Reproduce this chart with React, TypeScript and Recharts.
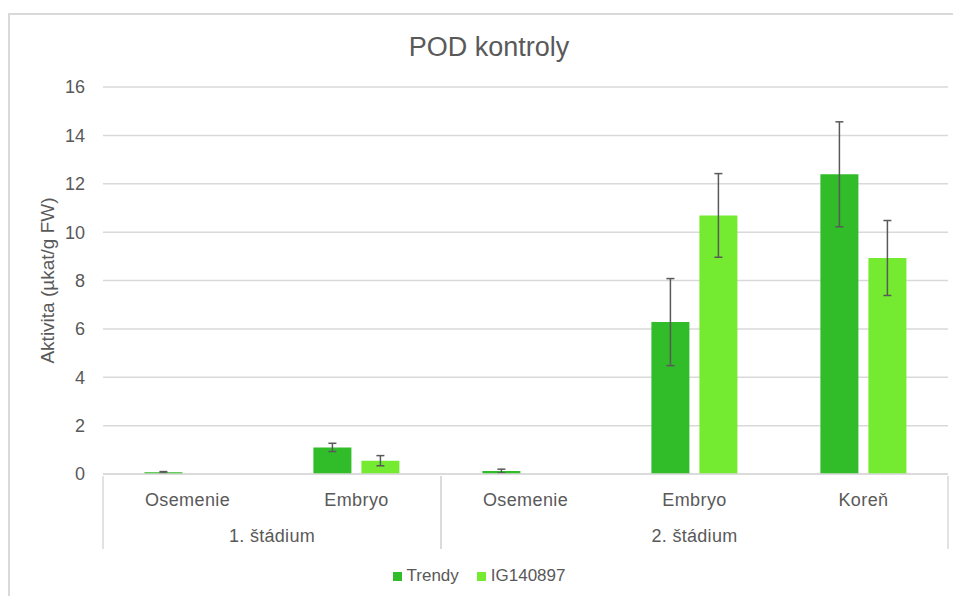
import React from 'react';
import { BarChart, Bar, XAxis, YAxis, CartesianGrid, Legend, ErrorBar, Label } from 'recharts';

const categories = ['Osemenie', 'Embryo', 'Osemenie', 'Embryo', 'Koreň'];
const stages = ['1. štádium', '1. štádium', '2. štádium', '2. štádium', '2. štádium'];
const trendy = [0.07, 1.1, 0.12, 6.28, 12.39];
const trendyErr = [0.03, 0.17, 0.08, 1.8, 2.17];
const ig140897 = [0, 0.55, 0, 10.69, 8.93];
const ig140897Err = [null, 0.21, null, 1.73, 1.55];
const yTicks = [0, 2, 4, 6, 8, 10, 12, 14, 16];

const data = categories.map((name, i) => ({
  name,
  stage: stages[i],
  trendy: trendy[i],
  trendyErr: trendyErr[i],
  ig: ig140897[i],
  igErr: ig140897Err[i],
}));

const FONT = '"Liberation Sans", Arial, sans-serif';
const TEXT = '#595959';
const GRID = '#d9d9d9';
const DARK = '#31bc29';
const LIGHT = '#74eb31';

// category label + stage label underneath, with Excel-style group separators
const CategoryTick = (props: any) => {
  const { x, y, payload, index } = props;
  const half = payload?.offset || 84.5;
  const stage = stages[index];
  const first = index === 0 || stages[index - 1] !== stage;
  const last = index === stages.length - 1 || stages[index + 1] !== stage;
  const count = stages.filter((s) => s === stage).length;
  return (
    <g>
      <text x={x} y={y + 30} textAnchor="middle" fill={TEXT} fontSize={18} fontFamily={FONT} letterSpacing={0.4}>
        {payload.value}
      </text>
      {first && (
        <>
          <line x1={x - half} y1={y} x2={x - half} y2={y + 73} stroke={GRID} strokeWidth={1.5} />
          <text x={x + (count - 1) * half} y={y + 66} textAnchor="middle" fill={TEXT} fontSize={18} fontFamily={FONT} letterSpacing={0.3}>
            {stage}
          </text>
        </>
      )}
      {last && <line x1={x + half} y1={y} x2={x + half} y2={y + 73} stroke={GRID} strokeWidth={1.5} />}
    </g>
  );
};

const LegendContent = () => (
  <div style={{ display: 'flex', justifyContent: 'center', gap: 18, fontFamily: FONT, fontSize: 17, color: TEXT, paddingTop: 7 }}>
    {[
      { label: 'Trendy', color: DARK },
      { label: 'IG140897', color: LIGHT },
    ].map((item) => (
      <div key={item.label} style={{ display: 'flex', alignItems: 'center' }}>
        <span style={{ width: 9, height: 9, background: item.color, marginRight: 5, display: 'inline-block' }} />
        <span>{item.label}</span>
      </div>
    ))}
  </div>
);

const YLabel = (props: any) => {
  const { viewBox } = props;
  const cx = viewBox.x + 37;
  const cy = viewBox.y + viewBox.height / 2;
  return (
    <text x={cx} y={cy} transform={`rotate(-90, ${cx}, ${cy})`} textAnchor="middle" dominantBaseline="central" fill={TEXT} fontSize={19} fontFamily={FONT}>
      Aktivita (µkat/g FW)
    </text>
  );
};

export default function App() {
  return (
    <div
      style={{
        position: 'absolute',
        top: 13,
        left: 8,
        width: 945,
        height: 583,
        overflow: 'hidden',
        boxSizing: 'border-box',
        borderTop: `2px solid ${GRID}`,
        borderLeft: `2px solid ${GRID}`,
        background: '#fff',
      }}
    >
      <div style={{ position: 'absolute', top: 17, left: 0, width: 958, textAlign: 'center', fontFamily: FONT, fontSize: 27, color: TEXT }}>
        POD kontroly
      </div>
      <BarChart
        width={948}
        height={578}
        data={data}
        margin={{ top: 72, right: 10, left: 0, bottom: 10 }}
        barCategoryGap="24.5%"
        barGap={10}
      >
        <CartesianGrid vertical={false} stroke={GRID} strokeWidth={1.5} />
        <XAxis
          dataKey="name"
          tick={<CategoryTick />}
          tickLine={false}
          tickSize={0}
          interval={0}
          height={85}
          axisLine={{ stroke: GRID, strokeWidth: 1.5 }}
        />
        <YAxis
          width={93}
          domain={[0, 16]}
          ticks={yTicks}
          axisLine={false}
          tickLine={false}
          tickSize={0}
          tickMargin={18}
          tick={{ fill: TEXT, fontSize: 18, fontFamily: FONT }}
        >
          <Label content={<YLabel />} />
        </YAxis>
        <Legend verticalAlign="bottom" height={24} content={<LegendContent />} />
        <Bar dataKey="trendy" name="Trendy" fill={DARK} isAnimationActive={false}>
          <ErrorBar dataKey="trendyErr" width={4} stroke={TEXT} strokeWidth={1.5} />
        </Bar>
        <Bar dataKey="ig" name="IG140897" fill={LIGHT} isAnimationActive={false}>
          <ErrorBar dataKey="igErr" width={4} stroke={TEXT} strokeWidth={1.5} />
        </Bar>
      </BarChart>
    </div>
  );
}
